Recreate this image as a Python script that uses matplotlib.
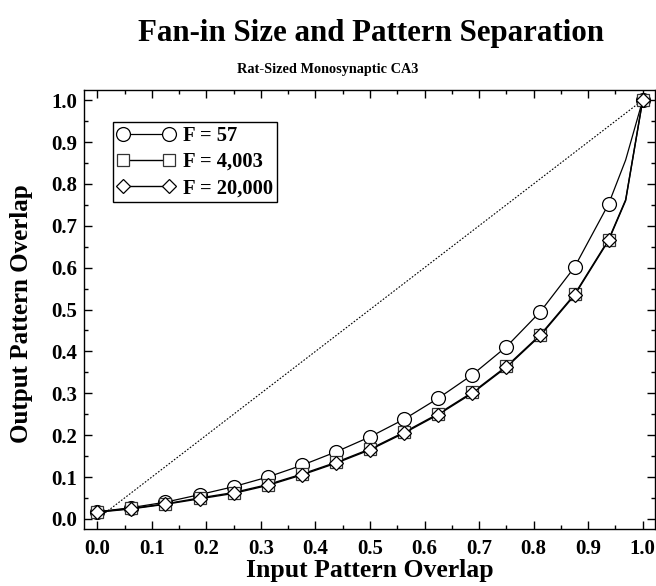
import matplotlib
matplotlib.use("Agg")
import matplotlib.pyplot as plt
from matplotlib.ticker import MultipleLocator

plt.rcParams['font.family'] = ['Liberation Serif', 'DejaVu Serif']
plt.rcParams['font.weight'] = 'bold'

# input overlap at 16ths, plus a knee point at 31/32 (line only, no marker)
x = [0, 1/16, 2/16, 3/16, 4/16, 5/16, 6/16, 7/16, 8/16, 9/16, 10/16,
     11/16, 12/16, 13/16, 14/16, 15/16, 31/32, 1.0]
f57 = [0.017, 0.027, 0.040, 0.058, 0.077, 0.100, 0.128, 0.160, 0.196, 0.238,
       0.288, 0.344, 0.411, 0.495, 0.601, 0.752, 0.857, 1.0]
f4003 = [0.017, 0.025, 0.036, 0.050, 0.063, 0.082, 0.107, 0.135, 0.167, 0.207,
         0.251, 0.302, 0.364, 0.440, 0.536, 0.667, 0.762, 1.0]
f20000 = [0.016, 0.024, 0.035, 0.048, 0.061, 0.080, 0.105, 0.133, 0.165, 0.205,
          0.249, 0.300, 0.362, 0.438, 0.534, 0.665, 0.760, 1.0]
marked = [i for i in range(len(x)) if i != 16]

fig = plt.figure(figsize=(6.56, 5.86), dpi=100)
ax = fig.add_axes([0.128, 0.0973, 0.870, 0.749])

ax.plot([0, 1], [0, 1], color='black', linestyle=(0, (1.5, 1.5)), linewidth=0.8)
ax.plot(x, f57, color='black', linewidth=0.9, marker='o', markersize=10,
        markerfacecolor='white', markeredgecolor='black', markeredgewidth=0.9,
        markevery=marked, label='F = 57')
ax.plot(x, f4003, color='black', linewidth=1.0, marker='s', markersize=8.5,
        markerfacecolor='white', markeredgecolor='#333333', markeredgewidth=0.9,
        markevery=marked, label='F = 4,003')
ax.plot(x, f20000, color='black', linewidth=1.0, marker='D', markersize=7.5,
        markerfacecolor='white', markeredgecolor='black', markeredgewidth=0.9,
        markevery=marked, label='F = 20,000')

ax.set_xlim(-0.0244, 1.022)
ax.set_ylim(-0.024, 1.024)
ax.xaxis.set_major_locator(MultipleLocator(0.1))
ax.xaxis.set_minor_locator(MultipleLocator(0.05))
ax.yaxis.set_major_locator(MultipleLocator(0.1))
ax.yaxis.set_minor_locator(MultipleLocator(0.05))
ax.xaxis.set_major_formatter(lambda v, p: f"{v:.1f}")
ax.yaxis.set_major_formatter(lambda v, p: f"{v:.1f}")
ax.tick_params(which='both', direction='in', top=True, right=True, width=1)
ax.tick_params(which='major', length=6, labelsize=15)
ax.tick_params(axis='x', which='major', pad=7)
ax.tick_params(axis='y', which='major', pad=5)
ax.tick_params(which='minor', length=3)
for s in ax.spines.values():
    s.set_linewidth(1)

ax.set_xlabel('Input Pattern Overlap', fontsize=18.5, fontweight='bold')
ax.set_ylabel('Output Pattern Overlap', fontsize=18, fontweight='bold')
ax.xaxis.set_label_coords(0.5, -0.068)
ax.yaxis.set_label_coords(-0.089, 0.49)

fig.text(0.565, 0.943, 'Fan-in Size and Pattern Separation', ha='center', va='center',
         fontsize=22.2, fontweight='bold')
fig.text(0.5, 0.882, 'Rat-Sized Monosynaptic CA3', ha='center', va='center',
         fontsize=10.3, fontweight='bold')

leg = ax.legend(loc='upper left', bbox_to_anchor=(0.051, 0.928), numpoints=2,
                fancybox=False, framealpha=1, edgecolor='black', fontsize=14.8,
                handlelength=2.8, handletextpad=0.4, borderpad=0.2,
                labelspacing=0.3, borderaxespad=0)
leg.get_frame().set_linewidth(1)

fig.savefig('out.png', dpi=100)
